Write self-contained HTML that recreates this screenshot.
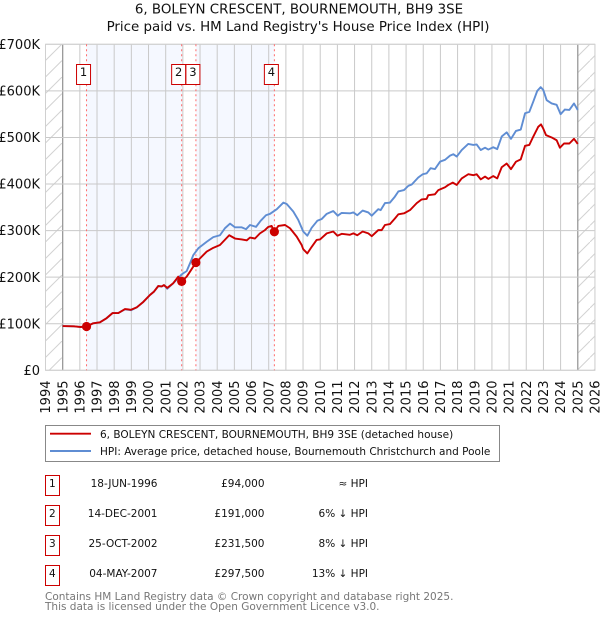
<!DOCTYPE html>
<html lang="en">
<head>
<meta charset="utf-8">
<title>6, BOLEYN CRESCENT, BOURNEMOUTH, BH9 3SE</title>
<style>
html,body{margin:0;padding:0;background:#fff;}
body{width:600px;height:620px;overflow:hidden;}
svg{display:block;font-family:"DejaVu Sans",sans-serif;}
</style>
</head>
<body>
<svg id="chart" xmlns="http://www.w3.org/2000/svg" width="600" height="620" viewBox="0 0 600 620">
  <defs>
    <pattern id="hatch" patternUnits="userSpaceOnUse" width="16.5" height="16.5" x="45.5" y="44">
      <line x1="0" y1="16.5" x2="16.5" y2="0" stroke="#d2d2d2" stroke-width="1"/>
    </pattern>
  </defs>
  <text x="299" y="13.5" text-anchor="middle" font-size="13.4" fill="#111">6, BOLEYN CRESCENT, BOURNEMOUTH, BH9 3SE</text>
  <text x="298" y="31" text-anchor="middle" font-size="13.4" fill="#111">Price paid vs. HM Land Registry's House Price Index (HPI)</text>

  <g id="bands"></g>
  <g id="hatches"></g>
  <g id="grid"></g>
  <g id="ylabels" font-size="13" fill="#111" text-anchor="end"></g>
  <g id="xlabels" font-size="13" fill="#111" text-anchor="end"></g>
  <g id="salelines"></g>
  <g id="series"></g>
  <g id="markers"></g>
  <g id="salelabels" font-size="11.5" fill="#111" text-anchor="middle"></g>

  <g>
    <rect x="45.5" y="425.5" width="454" height="36" fill="#fff" stroke="#888" stroke-width="1"/>
    <line x1="50" y1="433.7" x2="91" y2="433.7" stroke="#cc0000" stroke-width="1.9"/>
    <text x="100" y="438" font-size="10.5" fill="#111">6, BOLEYN CRESCENT, BOURNEMOUTH, BH9 3SE (detached house)</text>
    <line x1="50" y1="451" x2="91" y2="451" stroke="#5f8dd3" stroke-width="1.9"/>
    <text x="100" y="455" font-size="10.5" fill="#111">HPI: Average price, detached house, Bournemouth Christchurch and Poole</text>
  </g>

  <g font-size="10.5" fill="#111">
    <g>
      <rect x="45.5" y="475.5" width="14" height="20" fill="#fff" stroke="#cc0000" stroke-width="1"/>
      <text x="52.3" y="487" text-anchor="middle">1</text>
      <text x="157.5" y="487" text-anchor="end">18-JUN-1996</text>
      <text x="264.5" y="487" text-anchor="end">£94,000</text>
      <text x="368" y="487" text-anchor="end">≈ HPI</text>
    </g>
    <g>
      <rect x="45.5" y="505.5" width="14" height="20" fill="#fff" stroke="#cc0000" stroke-width="1"/>
      <text x="52.3" y="517" text-anchor="middle">2</text>
      <text x="157.5" y="517" text-anchor="end">14-DEC-2001</text>
      <text x="264.5" y="517" text-anchor="end">£191,000</text>
      <text x="368" y="517" text-anchor="end">6% ↓ HPI</text>
    </g>
    <g>
      <rect x="45.5" y="535.5" width="14" height="20" fill="#fff" stroke="#cc0000" stroke-width="1"/>
      <text x="52.3" y="547" text-anchor="middle">3</text>
      <text x="157.5" y="547" text-anchor="end">25-OCT-2002</text>
      <text x="264.5" y="547" text-anchor="end">£231,500</text>
      <text x="368" y="547" text-anchor="end">8% ↓ HPI</text>
    </g>
    <g>
      <rect x="45.5" y="565.5" width="14" height="20" fill="#fff" stroke="#cc0000" stroke-width="1"/>
      <text x="52.3" y="577" text-anchor="middle">4</text>
      <text x="157.5" y="577" text-anchor="end">04-MAY-2007</text>
      <text x="264.5" y="577" text-anchor="end">£297,500</text>
      <text x="368" y="577" text-anchor="end">13% ↓ HPI</text>
    </g>
  </g>

  <text x="45" y="600" font-size="10.5" fill="#777">Contains HM Land Registry data © Crown copyright and database right 2025.</text>
  <text x="45" y="610" font-size="10.5" fill="#777">This data is licensed under the Open Government Licence v3.0.</text>
</svg>

<script>
var yearTicks = [1994,1995,1996,1997,1998,1999,2000,2001,2002,2003,2004,2005,2006,2007,2008,2009,2010,2011,2012,2013,2014,2015,2016,2017,2018,2019,2020,2021,2022,2023,2024,2025,2026];
var valueTicks = [0,100,200,300,400,500,600,700];
var valueTickLabels = ["£0","£100K","£200K","£300K","£400K","£500K","£600K","£700K"];

var dataStart = 1995;
var dataEnd = 2025;

var saleDates = [1996.39,2001.93,2002.76,2007.33];
var saleValues = [94,191,231.5,297.5];
var saleNames = ["1","2","3","4"];

var priceDates = [1995,1995.66,1996.01,1996.39,1996.78,1997.17,1997.56,1997.91,1998.24,1998.63,1998.98,1999.31,1999.7,2000.09,2000.32,2000.57,2000.77,2000.9,2001.09,2001.44,2001.73,2001.93,2002.22,2002.42,2002.76,2003.39,2003.77,2004.16,2004.7,2005.04,2005.43,2005.72,2005.91,2006.2,2006.49,2006.78,2006.98,2007.17,2007.33,2007.56,2007.95,2008.24,2008.63,2008.92,2009.01,2009.25,2009.5,2009.79,2009.99,2010.38,2010.76,2011,2011.25,2011.73,2011.93,2012.16,2012.47,2012.8,2013,2013.38,2013.58,2013.77,2014.06,2014.35,2014.55,2014.88,2015.23,2015.62,2015.91,2016.2,2016.29,2016.68,2016.88,2017.27,2017.46,2017.72,2017.95,2018.24,2018.62,2018.92,2019.11,2019.35,2019.6,2019.79,2020.08,2020.31,2020.57,2020.86,2021.11,2021.4,2021.68,2021.93,2022.18,2022.41,2022.7,2022.86,2022.99,2023.15,2023.48,2023.77,2023.96,2024.2,2024.51,2024.78,2025];
var priceValues = [95,94.5,93,94,101,103,112,123,123,131.6,130,135,147,162,169,181,180,183,177,187,201,191,201,212,231.5,255,263,269,290,283,281,279,285,283,294,301,308,310,297.5,310,312,305,287,269,260,251,265,280,281,294,298,289,293,291,294,290,298,294,288,301,301,312,314,326,335,337,344,359,367,368,376,378,387,393,398,403,398,412,421,419,421,410,416,411,417,412,436,444,432,448,453,482,484,502,523,528,519,505,500,494,478,487,487,497,486];

var hpiDates = [1995,1995.66,1996.01,1996.39,1996.78,1997.17,1997.56,1997.91,1998.24,1998.63,1998.98,1999.31,1999.7,2000.09,2000.32,2000.57,2000.77,2000.9,2001.09,2001.44,2001.93,2002.22,2002.42,2002.61,2002.9,2003.39,2003.77,2004.16,2004.45,2004.75,2005.04,2005.43,2005.68,2005.91,2006.26,2006.53,2006.84,2007.08,2007.47,2007.85,2008.05,2008.43,2008.72,2009.01,2009.25,2009.5,2009.83,2010.09,2010.38,2010.76,2011.02,2011.25,2011.73,2011.93,2012.16,2012.47,2012.8,2013,2013.38,2013.52,2013.77,2014.06,2014.35,2014.55,2014.88,2015.13,2015.33,2015.71,2015.97,2016.2,2016.43,2016.68,2016.98,2017.27,2017.56,2017.75,2017.95,2018.24,2018.62,2018.92,2019.11,2019.35,2019.6,2019.79,2020.08,2020.31,2020.57,2020.86,2021.11,2021.4,2021.68,2021.93,2022.18,2022.41,2022.64,2022.84,2022.99,2023.19,2023.48,2023.77,2024,2024.25,2024.51,2024.78,2025];
var hpiValues = [95,94.5,93,94,101,103,112,123,123,131,129,135,147,162,169,181,180,183,175,187,206,213,230,247.5,262,276,286,290,305,315,307,307,303,312,308,321,333,336,346,360,357,341,323,298,289,306,321,325,336,342,332,338,337,339,333,343,339,332,346,344,359,360,373,384,387,396,399,414,421,423,434,432,448,452,461,464,459,473,486,484,485,473,478,474,479,475,502,511,497,514,517,552,555,577,600,608,602,580,573,570,550,560,559,573,559];

function xScale(year) {
  return 45.5 + (year - 1994) * 17.17;
}
function yScale(value) {
  return 370.3 - value * 0.4657;
}

var NS = "http://www.w3.org/2000/svg";
function make(parentId, tag, props) {
  var el = document.createElementNS(NS, tag);
  for (var key in props) {
    el.setAttribute(key, props[key]);
  }
  document.getElementById(parentId).appendChild(el);
  return el;
}
function pathFrom(dates, values) {
  var d = "";
  for (var i = 0; i < dates.length; i++) {
    d += (i ? "L" : "M") + xScale(dates[i]).toFixed(2) + " " + yScale(values[i]).toFixed(2);
  }
  return d;
}

var plotTop = yScale(700);
var plotBottom = yScale(0);
var plotLeft = xScale(yearTicks[0]);
var plotRight = xScale(yearTicks[yearTicks.length - 1]);

for (var b = 0; b + 1 < saleDates.length; b += 2) {
  var band = make("bands", "rect", {x: xScale(saleDates[b]), y: plotTop, width: xScale(saleDates[b + 1]) - xScale(saleDates[b]), height: plotBottom - plotTop, fill: "#f5f8ff"});
  
  
}

var hatchLeft = make("hatches", "rect", {x: plotLeft, y: plotTop, width: xScale(dataStart) - plotLeft, height: plotBottom - plotTop, fill: "url(#hatch)"});


var hatchRight = make("hatches", "rect", {x: xScale(dataEnd), y: plotTop, width: plotRight - xScale(dataEnd), height: plotBottom - plotTop, fill: "url(#hatch)"});



yearTicks.forEach(function (year) {
  var x = xScale(year);
  var edge = year === dataStart || year === dataEnd;
  var line = make("grid", "line", {x1: x, x2: x, y1: plotTop, y2: plotBottom, stroke: edge ? "#999" : "#c9c9c9", "stroke-width": edge ? 1.3 : 1});
  
  
  var label = make("xlabels", "text", {transform: "translate(" + (x + 4.6) + ",380.5) rotate(-90)"});
  
  
  label.textContent = String(year);
});

valueTicks.forEach(function (value, i) {
  var y = yScale(value);
  var line = make("grid", "line", {x1: plotLeft, x2: plotRight, y1: y, y2: y, stroke: "#c9c9c9", "stroke-width": 1});
  
  
  var label = make("ylabels", "text", {x: 40, y: y + 4.6});
  
  
  label.textContent = valueTickLabels[i];
});

saleDates.forEach(function (date) {
  var x = xScale(date);
  var line = make("salelines", "line", {x1: x, x2: x, y1: plotTop, y2: plotBottom, stroke: "#ff6b6b", "stroke-width": 1, "stroke-dasharray": "2 3"});
  
  
});

var hpiLine = make("series", "path", {d: pathFrom(hpiDates, hpiValues), fill: "none", stroke: "#5f8dd3", "stroke-width": 1.9, "stroke-linejoin": "round"});


var priceLine = make("series", "path", {d: pathFrom(priceDates, priceValues), fill: "none", stroke: "#cc0000", "stroke-width": 1.9, "stroke-linejoin": "round"});



saleDates.forEach(function (date, i) {
  var x = xScale(date);
  var dot = make("markers", "circle", {cx: x, cy: yScale(saleValues[i]), r: 4.6, fill: "#cc0000"});
  
  
  var box = make("salelabels", "rect", {x: x - 10, y: 64.5, width: 14, height: 20, fill: "#fff", stroke: "#cc0000", "stroke-width": 1});
  
  
  var text = make("salelabels", "text", {x: x - 3, y: 76});
  
  
  text.textContent = saleNames[i];
});

var frame = make("grid", "rect", {x: plotLeft, y: plotTop, width: plotRight - plotLeft, height: plotBottom - plotTop, fill: "none", stroke: "#d0d0d0", "stroke-width": 1});


</script>
</body>
</html>
